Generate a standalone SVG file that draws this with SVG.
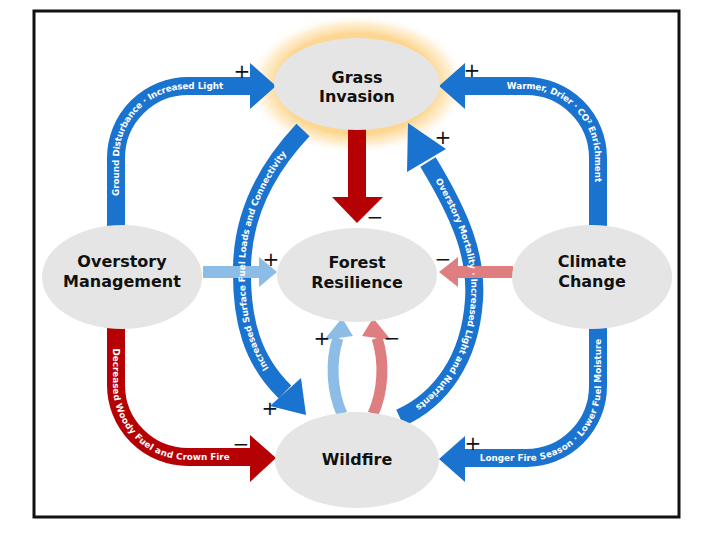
<svg xmlns="http://www.w3.org/2000/svg" width="712" height="535" viewBox="0 0 712 535">
<defs>
<radialGradient id="glow" cx="50%" cy="50%" r="50%">
<stop offset="0.72" stop-color="#FDD690" stop-opacity="1"/>
<stop offset="0.86" stop-color="#FEE3B3" stop-opacity="0.6"/>
<stop offset="1" stop-color="#FFFFFF" stop-opacity="0"/>
</radialGradient>
<style>
.node{fill:#E5E5E5}
.lbl{font-family:"DejaVu Sans",Verdana,sans-serif;font-weight:bold;font-size:16px;fill:#111;text-anchor:middle}
.band{fill:none;stroke-width:18}
.blue{stroke:#1A73CF}
.red{stroke:#B50004}
.fb{fill:#1A73CF}
.fr{fill:#B50004}
.lb{fill:#8DBDE6}
.lr{fill:#DE7E80}
.cl{font-family:"DejaVu Sans",Verdana,sans-serif;font-weight:bold;font-size:8.8px;fill:#FFFFFF;text-anchor:middle;dominant-baseline:central}
.sg{font-family:"DejaVu Sans",sans-serif;font-size:20px;fill:#111;text-anchor:middle}
</style>
</defs>
<rect x="34" y="11" width="645" height="506" fill="#FFFFFF" stroke="#111" stroke-width="3"/>
<ellipse id="grass-glow" cx="357" cy="84" rx="110" ry="70" fill="url(#glow)"/>
<g id="connectors">
<path id="p-gd" class="band blue" d="M116,228 V158 A72,72 0 0 1 188,86 H252"/>
<polygon class="fb" points="250,63 276,86 250,109"/>
<path id="p-wd" class="band blue" d="M463,86 H526 A72,72 0 0 1 598,158 V228"/>
<polygon class="fb" points="465,63 439,86 465,109"/>
<path id="p-dw" class="band red" d="M116,322 V385 A72,72 0 0 0 188,457 H252"/>
<polygon class="fr" points="250,435 276,458 250,482"/>
<path id="p-lf" class="band blue" d="M463,458 H526 A72,72 0 0 0 598,386 V322"/>
<polygon class="fb" points="465,436 439,459 465,482"/>
<path class="band blue" d="M303,130 C270,165 243,210 242,267 C241,320 252,360 285,392"/>
<polygon class="fb" points="270,406 306,415 301,378"/>
<path id="p-sf" fill="none" d="M285,392 C252,360 241,320 242,267 C243,210 270,165 303,130"/>
<path class="band blue" d="M400,418 C440,400 470,360 474,300 C477,255 460,215 428,162"/>
<polygon class="fb" points="446,149 408,123 407,172"/>
<path id="p-om" fill="none" d="M428,162 C460,215 477,255 474,300 C470,360 440,400 400,418"/>
<rect class="fr" x="348" y="126" width="18" height="72"/>
<polygon class="fr" points="332,197 383,197 357,223"/>
<rect class="lb" x="203" y="266" width="57" height="12"/>
<polygon class="lb" points="259,257 277,272 259,287"/>
<rect class="lr" x="457" y="266" width="56" height="12"/>
<polygon class="lr" points="458,257 439,272 458,287"/>
<path d="M342,414 C332,392 330,362 338,338" fill="none" stroke="#8DBDE6" stroke-width="11"/>
<polygon class="lb" points="324,340 353,336 342,318"/>
<path d="M373,414 C383,392 385,362 377,338" fill="none" stroke="#DE7E80" stroke-width="11"/>
<polygon class="lr" points="391,340 362,336 373,318"/>
<text class="cl"><textPath href="#p-gd" startOffset="125">Ground Disturbance · Increased Light</textPath></text>
<text class="cl"><textPath href="#p-wd" startOffset="122">Warmer, Drier · CO² Enrichment</textPath></text>
<text class="cl"><textPath href="#p-dw" startOffset="122">Decreased Woody Fuel and Crown Fire</textPath></text>
<text class="cl"><textPath href="#p-lf" startOffset="120">Longer Fire Season · Lower Fuel Moisture</textPath></text>
<text class="cl"><textPath href="#p-sf" startOffset="50%">Increased Surface Fuel Loads and Connectivity</textPath></text>
<text class="cl"><textPath href="#p-om" startOffset="50%">Overstory Mortality · Increased Light and Nutrients</textPath></text>
<text class="sg" x="242" y="78">+</text>
<text class="sg" x="472" y="77">+</text>
<text class="sg" x="443" y="144">+</text>
<text class="sg" x="375" y="224">−</text>
<text class="sg" x="271" y="266">+</text>
<text class="sg" x="443" y="266">−</text>
<text class="sg" x="322" y="345">+</text>
<text class="sg" x="392" y="345">−</text>
<text class="sg" x="270" y="415">+</text>
<text class="sg" x="241" y="451">−</text>
<text class="sg" x="473" y="450">+</text>
</g>
<g id="grass-invasion">
<ellipse class="node" cx="357" cy="84" rx="83" ry="46"/>
<text class="lbl" x="357" y="83">Grass</text>
<text class="lbl" x="357" y="102">Invasion</text>
</g>
<g id="overstory-management">
<ellipse class="node" cx="122" cy="277" rx="80" ry="52"/>
<text class="lbl" x="122" y="267">Overstory</text>
<text class="lbl" x="122" y="287">Management</text>
</g>
<g id="forest-resilience">
<ellipse class="node" cx="357" cy="275" rx="80" ry="47"/>
<text class="lbl" x="357" y="268">Forest</text>
<text class="lbl" x="357" y="288">Resilience</text>
</g>
<g id="climate-change">
<ellipse class="node" cx="592" cy="277" rx="80" ry="52"/>
<text class="lbl" x="592" y="267">Climate</text>
<text class="lbl" x="592" y="287">Change</text>
</g>
<g id="wildfire">
<ellipse class="node" cx="357" cy="460" rx="82" ry="48"/>
<text class="lbl" x="357" y="465">Wildfire</text>
</g>
</svg>
